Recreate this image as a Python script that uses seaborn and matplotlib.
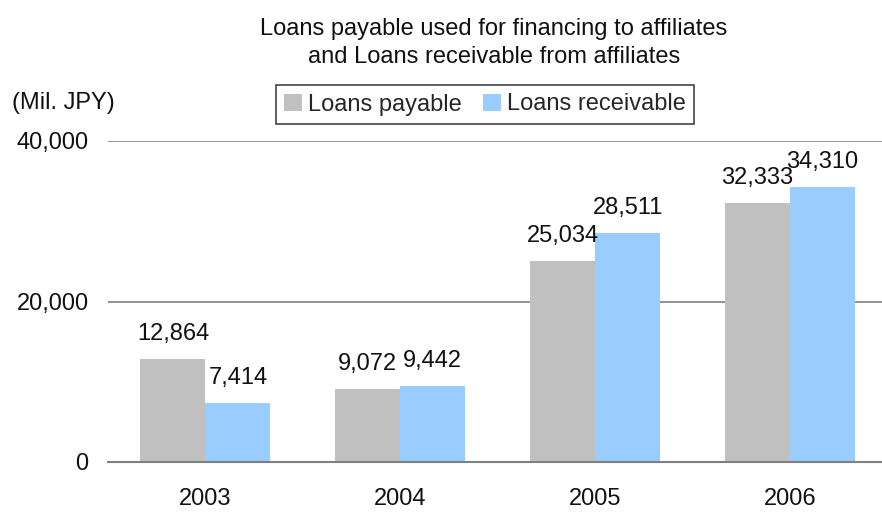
import matplotlib
matplotlib.use("Agg")
import matplotlib.pyplot as plt
import seaborn as sns
import pandas as pd
from matplotlib.patches import Patch

years = ["2003", "2004", "2005", "2006"]
loans_payable = [12864, 9072, 25034, 32333]
loans_receivable = [7414, 9442, 28511, 34310]
series_names = ["Loans payable", "Loans receivable"]
colors = ["#C0C0C0", "#99CCFF"]
yticks = [0, 20000, 40000]

df = pd.DataFrame({
    "year": years * 2,
    "value": loans_payable + loans_receivable,
    "series": [series_names[0]] * len(years) + [series_names[1]] * len(years),
})

sns.set_theme(style="white")
plt.rcParams["font.family"] = ["Liberation Sans", "DejaVu Sans"]
FS = 17

fig = plt.figure(figsize=(8.82, 5.19), dpi=100)
ax = fig.add_axes([108 / 882, 1 - 462 / 519, 1 - 108 / 882, (462 - 141) / 519])

sns.barplot(data=df, x="year", y="value", hue="series", palette=colors,
            width=0.667, gap=0, saturation=1, linewidth=0, ax=ax, legend=False)

ax.set_ylim(0, 40000)
ax.set_xlim(-0.5, (882 - 205) / 195)
ax.set_yticks(yticks)
ax.set_yticklabels([f"{v:,}" for v in yticks], fontsize=FS, color="#111111")
ax.tick_params(axis="y", length=0, pad=14)
ax.tick_params(axis="x", length=0, pad=19, labelsize=FS, labelcolor="#111111")
ax.set_xlabel("")
ax.set_ylabel("")
ax.yaxis.grid(True, color="#808080", linewidth=1.2)
ax.set_axisbelow(True)
for s in ["left", "top", "right"]:
    ax.spines[s].set_visible(False)
ax.spines["bottom"].set_color("#808080")
ax.spines["bottom"].set_linewidth(1.5)

for cont, vals in zip(ax.containers, [loans_payable, loans_receivable]):
    ax.bar_label(cont, labels=[f"{v:,}" for v in vals], padding=10,
                 fontsize=FS, color="#111111")

fig.text(494 / 882, 1 - 43 / 519,
         "Loans payable used for financing to affiliates\nand Loans receivable from affiliates",
         ha="center", va="center", fontsize=FS, linespacing=1.4, color="#111111")
fig.text(12 / 882, 1 - 103 / 519, "(Mil. JPY)", ha="left", va="center",
         fontsize=FS, color="#111111")

handles = [Patch(facecolor=c, edgecolor="none") for c in colors]
leg = fig.legend(handles, series_names, loc="center", ncol=2,
                 bbox_to_anchor=(485 / 882, 1 - 104.5 / 519),
                 fontsize=FS, frameon=True, fancybox=False, framealpha=1,
                 edgecolor="#444444", handlelength=0.75, handleheight=0.75,
                 handletextpad=0.25, columnspacing=0.9, borderpad=0.35,
                 borderaxespad=0)
leg.get_frame().set_linewidth(1.2)

fig.savefig("out.png", dpi=100)
